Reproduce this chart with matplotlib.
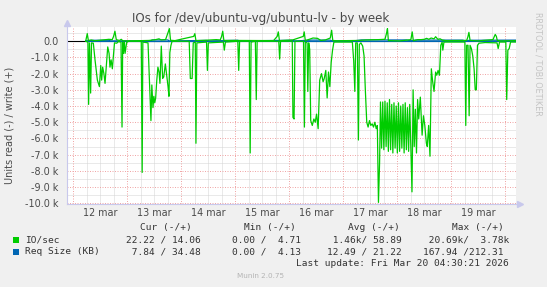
import matplotlib
matplotlib.use("Agg")
import matplotlib.pyplot as plt
from matplotlib.patches import Rectangle

# ---------------- data (hours since 12 mar 00:00, values in thousands) ----------------
day_labels = ["12 mar", "13 mar", "14 mar", "15 mar", "16 mar", "17 mar", "18 mar", "19 mar"]
y_tick_values = [0, -1, -2, -3, -4, -5, -6, -7, -8, -9, -10]
y_tick_labels = ["0.0", "-1.0 k", "-2.0 k", "-3.0 k", "-4.0 k", "-5.0 k",
                 "-6.0 k", "-7.0 k", "-8.0 k", "-9.0 k", "-10.0 k"]

io_read_hours = [
    5.5, 6.5, 6.8, 7.2, 7.7, 8.1, 8.9, 9.65, 10.7, 11.6, 12.2, 12.6, 13.05, 13.6, 14.1, 14.8,
    15.3, 15.9, 16.3, 16.8, 17.35, 17.8, 18.3, 19.3, 20.0, 21.2, 21.65, 21.95, 22.25, 22.7,
    23.0, 23.7, 24.5, 30.2, 30.6, 30.9, 33.2, 33.9, 34.5, 34.9, 35.4, 35.8, 36.2, 36.6, 37.1,
    37.6, 38.1, 38.5, 39.1, 39.7, 40.2, 40.9, 41.5, 42.1, 42.5, 42.9, 43.4, 43.9, 51.5, 52.0,
    52.8, 53.3, 54.2, 54.5, 54.9, 59.2, 59.6, 60.0, 66.7, 67.1, 67.6, 73.1, 73.5, 73.9, 78.2,
    78.6, 79.0, 80.9, 81.3, 81.7, 91.3, 91.7, 92.1, 97.3, 97.6, 98.1, 98.5, 102.3, 102.7,
    103.1, 103.9, 104.2, 104.6, 105.05, 105.5, 106.2, 106.9, 107.5, 108.1, 108.8, 109.5,
    110.3, 111.0, 111.5, 112.2, 112.8, 113.4, 114.0, 114.6, 115.2, 115.8, 124.0, 124.6,
    125.1, 125.5, 126.2, 126.7, 127.1, 127.8, 128.6, 129.2, 129.8, 130.4, 131.0, 131.6,
    132.2, 132.8, 133.4, 134.0, 134.6, 135.1, 135.6, 136.1, 136.5,
    137.0, 137.5, 138.0, 138.5, 139.0, 139.5, 140.0, 140.5, 141.0, 141.5, 142.0, 142.5,
    143.0, 143.5, 144.0, 144.5, 145.0, 145.5, 146.0, 146.5, 147.0, 147.5, 148.0, 148.5,
    149.0, 149.5, 150.0, 150.5, 151.0, 151.5, 152.0, 152.5, 153.0, 153.5,
    154.2, 155.0, 155.6, 156.2, 156.9, 157.3, 157.9, 158.5, 159.1, 159.7, 160.3, 161.0,
    161.5, 162.1, 162.7, 163.3, 163.9, 164.2, 164.7, 174.0, 174.4, 174.8, 175.4, 175.9,
    176.3, 176.9, 177.5, 178.1, 178.6, 179.1, 179.6, 180.3, 183.0, 188.3, 188.8, 189.4,
    192.2, 192.6, 193.1, 193.7, 194.3, 196.5,
]
io_read_values = [
    0.0, -0.05, -3.9, -0.1, -3.2, -0.1, -0.12, -1.15, -2.4, -2.8, -1.5, -2.4, -1.6, -2.0, -2.6, -1.3,
    -0.35, -0.75, -1.6, -1.15, -1.7, -0.95, -0.1, -0.12, -0.02, -0.05, -5.3, -0.05, -0.75, -0.05,
    -0.75, -0.08, 0.0, 0.0, -8.1, -0.05, -0.1, -2.6, -4.9, -2.7, -4.1, -3.4, -3.8, -3.5, -2.4,
    -1.6, -1.9, -2.6, -0.3, -2.3, -2.2, -1.4, -2.1, -2.8, -3.4, -0.7, -0.25, 0.0, 0.0, -2.3,
    -2.3, -0.1, -0.05, -6.3, -0.1, -0.05, -1.8, -0.1, -0.05, -0.55, -0.05, 0.0, -1.8, 0.0, 0.0,
    -6.9, -0.05, 0.0, -3.6, 0.0, 0.0, -1.1, 0.0, 0.0, -4.7, -4.8, 0.0, 0.0, -5.3,
    -0.05, -0.1, -3.1, -0.1, -0.5, -4.9, -5.2, -4.8, -5.0, -4.5, -5.4, -2.4,
    -2.0, -2.5, -2.3, -1.8, -3.5, -1.9, -2.8, -1.3, -0.55, -0.05, -0.05, -1.2,
    -3.1, -0.1, -0.1, -6.1, -0.2, -0.1, -0.3, -0.9, -3.1, -5.0, -5.3, -4.9,
    -5.2, -5.1, -5.3, -5.0, -5.4, -5.2, -9.95, -7.5, -3.75,
    -6.6, -3.75, -6.7, -3.7, -6.5, -3.8, -6.8, -3.6, -6.7, -3.9, -6.9, -3.8,
    -6.6, -4.0, -6.9, -3.8, -6.8, -4.0, -6.6, -3.9, -6.9, -3.8, -6.7, -4.1,
    -6.8, -3.9, -6.6, -9.3, -3.0, -6.5, -4.2, -6.9, -3.6, -4.8,
    -3.45, -5.8, -4.6, -5.2, -6.3, -6.5, -5.2, -7.1, -1.7, -2.5, -3.1, -1.9,
    -2.1, -1.8, -2.1, -0.25, -0.05, -0.55, -0.05, -0.05, -5.2, -0.25, -0.25, -4.6,
    -0.25, -0.45, -0.9, -1.7, -3.0, -3.0, -0.25, -0.12, -0.08, -0.1, -0.45, -0.05,
    -0.05, -3.6, -0.55, -0.45, -0.05, -0.05,
]

io_write_hours = [
    5.5, 6.2, 6.7, 8.0, 9.5, 14.5, 15.8, 17.3, 17.9, 18.5, 19.1, 20.5, 21.3, 22.0, 24.5,
    33.6, 35.5, 36.6, 38.1, 39.0, 41.0, 42.2, 42.7, 43.2, 45.2, 53.5, 54.0, 54.5, 58.5,
    63.5, 65.3, 65.9, 66.4, 66.9, 72.0, 89.0, 90.6, 91.1, 91.6, 97.5, 102.2, 102.6, 103.1,
    105.5, 106.5, 108.5, 110.0, 112.0, 114.2, 114.8, 115.3, 117.0, 127.0, 130.0, 135.5,
    138.5, 139.2, 139.6, 140.0, 145.0, 150.0, 150.6, 151.1, 153.0, 154.5, 156.0, 157.0,
    158.0, 159.0, 160.3, 161.0, 162.0, 163.0, 164.0, 165.5, 174.8, 175.3, 175.8, 176.3,
    180.0, 182.0, 186.5, 187.1, 187.5, 188.0, 188.4, 190.0, 196.5,
]
io_write_values = [
    0.0, 0.47, 0.05, 0.08, 0.03, 0.1, 0.12, 0.1, 0.3, 0.62, 0.1, 0.05, 0.12, 0.03, 0.02,
    0.05, 0.08, 0.1, 0.15, 0.08, 0.1, 0.58, 0.78, 0.06, 0.04, 0.3, 0.47, 0.04, 0.06,
    0.1, 0.08, 0.3, 0.62, 0.05, 0.05, 0.04, 0.3, 0.58, 0.04, 0.08, 0.3, 0.58, 0.04,
    0.15, 0.2, 0.18, 0.05, 0.08, 0.2, 0.68, 0.05, 0.03, 0.05, 0.08, 0.1,
    0.12, 0.5, 0.78, 0.04, 0.02, 0.1, 0.58, 0.03, 0.1, 0.1, 0.12, 0.18,
    0.12, 0.2, 0.15, 0.28, 0.12, 0.15, 0.07, 0.04, 0.05, 0.25, 0.55, 0.05,
    0.02, 0.05, 0.1, 0.3, 0.42, 0.3, 0.05, 0.02, 0.04,
]

req_write_hours = [5.5, 9.0, 16.0, 16.5, 34.5, 35.0, 42.0, 42.5, 59.0, 60.5, 73.0, 74.0,
                   97.0, 98.5, 106.0, 114.0, 115.0, 125.0, 128.0, 148.0, 150.0, 152.0,
                   173.0, 174.0, 177.0, 196.5]
req_write_values = [0.02, 0.06, 0.06, 0.02, 0.02, 0.08, 0.08, 0.02, 0.05, 0.02, 0.06, 0.02,
                    0.06, 0.02, 0.07, 0.07, 0.03, 0.03, 0.08, 0.08, 0.03, 0.07,
                    0.07, 0.04, 0.06, 0.07]
req_read_hours = [5.5, 40.0, 80.0, 120.0, 160.0, 196.5]
req_read_values = [-0.01, -0.015, -0.01, -0.012, -0.01, -0.008]

legend_names = ["IO/sec", "Req Size (KB)"]
legend_headers = ["Cur (-/+)", "Min (-/+)", "Avg (-/+)", "Max (-/+)"]
legend_cur = ["22.22 / 14.06", " 7.84 / 34.48"]
legend_min = ["0.00 /  4.71", "0.00 /  4.13"]
legend_avg = [" 1.46k/ 58.89", "12.49 / 21.22"]
legend_max = [" 20.69k/  3.78k", "167.94 /212.31"]
last_update = "Last update: Fri Mar 20 04:30:21 2026"

GREEN = "#00CC00"
BLUE = "#0066B3"

# ---------------- figure ----------------
W, H = 547, 287
fig = plt.figure(figsize=(W / 100, H / 100), dpi=100, facecolor="#F0F0F0")


def fx(px):
    return px / W


def fy(py):
    return 1 - py / H


left, right, top, bottom = 67, 515.5, 27, 204
ax = fig.add_axes([fx(left), fy(bottom), fx(right - left), (bottom - top) / H])
ax.set_facecolor("white")
ax.set_xlim(-2.8, 196.5)
ax.set_ylim(-10.05, 0.88)

# grid
minor_y = [v + 0.5 for v in y_tick_values[1:]] + [0.5]
for yv in minor_y:
    ax.axhline(yv, color="#D4D4D4", lw=0.72, ls=(0, (1, 1)), zorder=0)
for yv in y_tick_values:
    ax.axhline(yv, color="#F0A8A8", lw=0.72, ls=(0, (1, 1.5)), zorder=0.5)
for k in range(9):
    for q in (6, 12, 18):
        ax.axvline(24 * k + q, color="#D4D4D4", lw=0.72, ls=(0, (1, 1)), zorder=0)
for k in range(9):
    ax.axvline(24 * k, color="#F0A8A8", lw=0.72, ls=(0, (1, 1.5)), zorder=0.5)

ax.set_yticks(y_tick_values)
ax.set_yticklabels(y_tick_labels)
ax.set_xticks([24 * i + 12 for i in range(len(day_labels))])
ax.set_xticklabels(day_labels)
ax.tick_params(axis="both", length=0, labelsize=6.9, colors="#4A4A4A")
ax.tick_params(axis="y", pad=6)
ax.tick_params(axis="x", pad=3)

for s in ("top", "right"):
    ax.spines[s].set_visible(False)
for s in ("left", "bottom"):
    ax.spines[s].set_color("#C8C8EC")
    ax.spines[s].set_linewidth(0.8)

# arrows on axes
ax.plot([0], [1.02], marker="^", color="#C8C8EC", markersize=4, transform=ax.transAxes,
        clip_on=False)
ax.plot([1.01], [0], marker=">", color="#C8C8EC", markersize=4, transform=ax.transAxes,
        clip_on=False)

# data
ax.axhline(0, color="black", lw=0.8, zorder=2)
ax.plot(req_write_hours, req_write_values, color=BLUE, lw=0.9, zorder=3)
ax.plot(req_read_hours, req_read_values, color=BLUE, lw=0.9, zorder=3)
ax.plot(io_read_hours, io_read_values, color=GREEN, lw=0.9, zorder=4)
ax.plot(io_write_hours, io_write_values, color=GREEN, lw=0.9, zorder=4)

# titles
fig.text(fx(261), fy(18.5), "IOs for /dev/ubuntu-vg/ubuntu-lv - by week", ha="center",
         va="center", fontsize=8.6, color="#4A4A4A")
fig.text(fx(10), fy(125), "Units read (-) / write (+)", rotation=90, ha="center",
         va="center", fontsize=7.0, color="#4A4A4A")
fig.text(fx(538), fy(64), "RRDTOOL / TOBI OETIKER", rotation=270, ha="center",
         va="center", fontsize=5.9, color="#C4C4C4")

# legend
mono = dict(family="DejaVu Sans Mono", fontsize=6.8, color="#333333")
header_x = [140, 244, 347.7, 451.7]
for hx, htxt in zip(header_x, legend_headers):
    fig.text(fx(hx), fy(227.7), htxt, ha="left", va="center", **mono)

row_y = [240, 251.7]
colors = [GREEN, BLUE]
for i in range(2):
    fig.patches.append(Rectangle((fx(13.3), fy(row_y[i] + 2.8)), 5.5 / W, 5.5 / H,
                                 transform=fig.transFigure, facecolor=colors[i],
                                 edgecolor="none"))
    fig.text(fx(25), fy(row_y[i]), legend_names[i], ha="left", va="center", **mono)
    fig.text(fx(125.7), fy(row_y[i]), legend_cur[i], ha="left", va="center", **mono)
    fig.text(fx(232.3), fy(row_y[i]), legend_min[i], ha="left", va="center", **mono)
    fig.text(fx(327.0), fy(row_y[i]), legend_avg[i], ha="left", va="center", **mono)
    fig.text(fx(422.7), fy(row_y[i]), legend_max[i], ha="left", va="center", **mono)

fig.text(fx(509), fy(263.3), last_update, ha="right", va="center", **mono)
fig.text(fx(260.7), fy(276), "Munin 2.0.75", ha="center", va="center", fontsize=5.2,
         color="#B4B4B4")

fig.savefig("out.png", dpi=100, facecolor=fig.get_facecolor())
